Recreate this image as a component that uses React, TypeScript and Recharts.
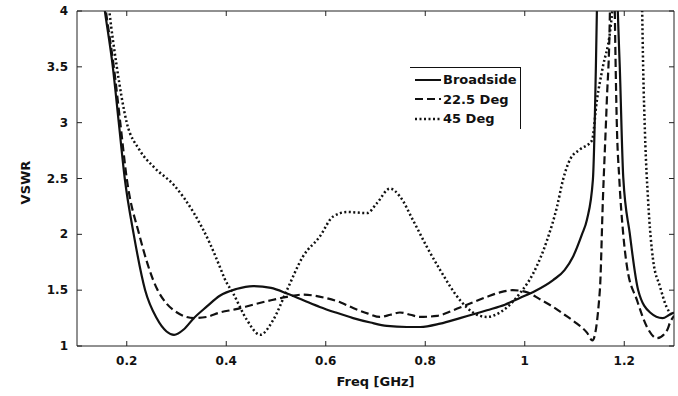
import React from "react";
import { LineChart, Line, XAxis, YAxis, Legend } from "recharts";

const xTicks = [0.2, 0.4, 0.6, 0.8, 1, 1.2];
const yTicks = [1, 1.5, 2, 2.5, 3, 3.5, 4];

const broadsideFreq = [0.15, 0.156, 0.172, 0.184, 0.196, 0.214, 0.237, 0.26, 0.28, 0.295, 0.315, 0.335, 0.36, 0.387, 0.42, 0.454, 0.49, 0.522, 0.555, 0.588, 0.62, 0.655, 0.69, 0.723, 0.763, 0.79, 0.83, 0.87, 0.924, 0.96, 0.99, 1.02, 1.057, 1.08, 1.097, 1.115, 1.125, 1.137, 1.143, 1.145, 1.15, 1.165, 1.18, 1.187, 1.191, 1.198, 1.211, 1.228, 1.252, 1.277, 1.291, 1.3];
const broadsideVSWR = [4.19, 4.0, 3.5, 3.0, 2.5, 2.0, 1.5, 1.25, 1.13, 1.1, 1.15, 1.25, 1.35, 1.45, 1.51, 1.537, 1.52, 1.47, 1.41, 1.35, 1.3, 1.25, 1.21, 1.18, 1.17, 1.17, 1.2, 1.25, 1.32, 1.37, 1.43, 1.49, 1.59, 1.68, 1.8, 2.0, 2.13, 2.49, 3.5, 4.0, 5.5, 9, 5.5, 4.0, 3.5, 2.51, 2.01, 1.5, 1.3, 1.25, 1.28, 1.3];

const deg22Freq = [0.152, 0.158, 0.174, 0.187, 0.2, 0.225, 0.261, 0.28, 0.301, 0.335, 0.36, 0.387, 0.42, 0.454, 0.49, 0.522, 0.554, 0.6, 0.63, 0.655, 0.685, 0.709, 0.73, 0.749, 0.77, 0.789, 0.824, 0.856, 0.89, 0.924, 0.95, 0.976, 1.005, 1.03, 1.057, 1.08, 1.105, 1.125, 1.136, 1.151, 1.157, 1.165, 1.171, 1.176, 1.181, 1.185, 1.19, 1.198, 1.2055, 1.2256, 1.2457, 1.2658, 1.286, 1.292, 1.3];
const deg22VSWR = [4.2, 4.0, 3.5, 3.0, 2.5, 2.0, 1.51, 1.38, 1.3, 1.25, 1.26, 1.3, 1.33, 1.37, 1.41, 1.44, 1.46, 1.43, 1.39, 1.34, 1.29, 1.26, 1.28, 1.3, 1.28, 1.26, 1.27, 1.32, 1.38, 1.44, 1.48, 1.5, 1.48, 1.42, 1.35, 1.28, 1.2, 1.12, 1.05, 1.5, 2.3, 3.2, 3.95, 6, 4.0, 3.0, 2.5, 2.0, 1.71, 1.41, 1.17, 1.07, 1.14, 1.21, 1.27];

const deg45Freq = [0.158, 0.165, 0.18, 0.2, 0.225, 0.255, 0.295, 0.335, 0.367, 0.387, 0.397, 0.414, 0.442, 0.468, 0.494, 0.522, 0.554, 0.588, 0.615, 0.643, 0.683, 0.703, 0.729, 0.749, 0.775, 0.803, 0.83, 0.87, 0.896, 0.924, 0.95, 0.99, 1.017, 1.045, 1.065, 1.077, 1.091, 1.111, 1.135, 1.145, 1.157, 1.171, 1.176, 1.2, 1.22, 1.236, 1.238, 1.2417, 1.248, 1.258, 1.272, 1.285, 1.2915, 1.3];
const deg45VSWR = [4.3, 4.0, 3.5, 3.0, 2.76, 2.6, 2.44, 2.19, 1.92, 1.71, 1.6, 1.47, 1.23, 1.1, 1.23, 1.5, 1.8, 1.98, 2.16, 2.2, 2.19, 2.28, 2.41, 2.34, 2.13, 1.89, 1.68, 1.41, 1.3, 1.26, 1.3, 1.47, 1.65, 1.95, 2.25, 2.49, 2.67, 2.76, 2.84, 3.2, 3.5, 3.8, 4.0, 6, 6, 4.0, 3.5, 2.9, 2.3, 1.77, 1.53, 1.35, 1.3, 1.27];

const toPoints = (fs: number[], vs: number[]) => fs.map((f, i) => ({ f, v: vs[i] }));
const broadsideData = toPoints(broadsideFreq, broadsideVSWR);
const deg22Data = toPoints(deg22Freq, deg22VSWR);
const deg45Data = toPoints(deg45Freq, deg45VSWR);

const seriesNames = ["Broadside", "22.5 Deg", "45 Deg"];
const dashes = [undefined, "8 4", "2 2.5"];

const FONT = "'DejaVu Sans', sans-serif";
const axisColor = "#222";
const tickFont = { fontFamily: FONT, fontSize: 12, fontWeight: 700, fill: "#111" };
const labelStyle = { fontFamily: FONT, fontSize: 13, fontWeight: 700, fill: "#111" };
const TL = 5;

const LeftTick = (p: any) => (
  <g>
    <line x1={p.x} y1={p.y} x2={p.x + TL} y2={p.y} stroke={axisColor} />
    <text x={p.x - 9} y={p.y} textAnchor="end" dominantBaseline="central" style={tickFont}>{p.payload.value}</text>
  </g>
);
const BottomTick = (p: any) => (
  <g>
    <line x1={p.x} y1={p.y} x2={p.x} y2={p.y - TL} stroke={axisColor} />
    <text x={p.x} y={p.y + 15} textAnchor="middle" dominantBaseline="central" style={tickFont}>{p.payload.value}</text>
  </g>
);
const TopTick = (p: any) => <line x1={p.x} y1={p.y} x2={p.x} y2={p.y + TL} stroke={axisColor} />;
const RightTick = (p: any) => <line x1={p.x} y1={p.y} x2={p.x - TL} y2={p.y} stroke={axisColor} />;

const LegendBox = () => (
  <div
    style={{
      borderTop: "1px solid #111",
      borderRight: "1px solid #111",
      paddingTop: 2,
      width: 111,
      boxSizing: "border-box",
      fontFamily: FONT,
      fontSize: 13,
      fontWeight: 700,
      color: "#111",
    }}
  >
    {seriesNames.map((n, i) => (
      <div key={n} style={{ height: 19.5, display: "flex", alignItems: "center" }}>
        <svg width={26} height={10} style={{ marginLeft: 5, marginRight: 2 }}>
          <line x1={0} y1={5} x2={26} y2={5} stroke="#111" strokeWidth={i === 2 ? 2.5 : 2} strokeDasharray={dashes[i]} />
        </svg>
        <span>{n}</span>
      </div>
    ))}
  </div>
);

const VswrLabel = (props: any) => {
  const vb = props.viewBox || {};
  const x = vb.x + 25;
  const y = vb.y + vb.height / 2 + 4;
  return (
    <text x={x} y={y} transform={`rotate(-90, ${x}, ${y})`} textAnchor="middle" dominantBaseline="central" style={labelStyle}>
      VSWR
    </text>
  );
};

export default function App() {
  return (
    <div style={{ position: "absolute", left: 0, top: 0 }}>
      <LineChart width={678} height={396} margin={{ top: 1, right: 3, bottom: 0, left: 0 }}>
        <XAxis
          dataKey="f"
          type="number"
          domain={[0.1, 1.3]}
          ticks={xTicks}
          interval={0}
          allowDataOverflow
          height={50}
          tickSize={0}
          tickMargin={0}
          tickLine={false}
          tick={<BottomTick />}
          axisLine={{ stroke: axisColor, strokeWidth: 1 }}
          label={{ value: "Freq [GHz]", position: "insideBottom", offset: 10, style: labelStyle }}
        />
        <XAxis
          xAxisId="top"
          orientation="top"
          dataKey="f"
          type="number"
          domain={[0.1, 1.3]}
          ticks={xTicks}
          interval={0}
          allowDataOverflow
          height={10}
          tickSize={0}
          tickMargin={0}
          tickLine={false}
          tick={<TopTick />}
          axisLine={{ stroke: axisColor, strokeWidth: 1 }}
        />
        <YAxis
          type="number"
          domain={[1, 4]}
          ticks={yTicks}
          interval={0}
          allowDataOverflow
          width={77}
          tickSize={0}
          tickMargin={0}
          tickLine={false}
          tick={<LeftTick />}
          axisLine={{ stroke: axisColor, strokeWidth: 1 }}
          label={<VswrLabel />}
        />
        <YAxis
          yAxisId="right"
          orientation="right"
          type="number"
          domain={[1, 4]}
          ticks={yTicks}
          interval={0}
          allowDataOverflow
          width={1}
          tickSize={0}
          tickMargin={0}
          tickLine={false}
          tick={<RightTick />}
          axisLine={{ stroke: axisColor, strokeWidth: 1 }}
        />
        <Legend layout="vertical" align="center" verticalAlign="middle" content={<LegendBox />} wrapperStyle={{ left: 410, top: 67, width: 111 }} />
        <Line data={broadsideData} dataKey="v" name="Broadside" type="monotone" stroke="#111" strokeWidth={2.2} dot={false} isAnimationActive={false} />
        <Line data={deg22Data} dataKey="v" name="22.5 Deg" type="monotone" stroke="#111" strokeWidth={2.2} strokeDasharray="8 4" dot={false} isAnimationActive={false} />
        <Line data={deg45Data} dataKey="v" name="45 Deg" type="monotone" stroke="#111" strokeWidth={2.5} strokeDasharray="2 2.5" dot={false} isAnimationActive={false} />
      </LineChart>
    </div>
  );
}
